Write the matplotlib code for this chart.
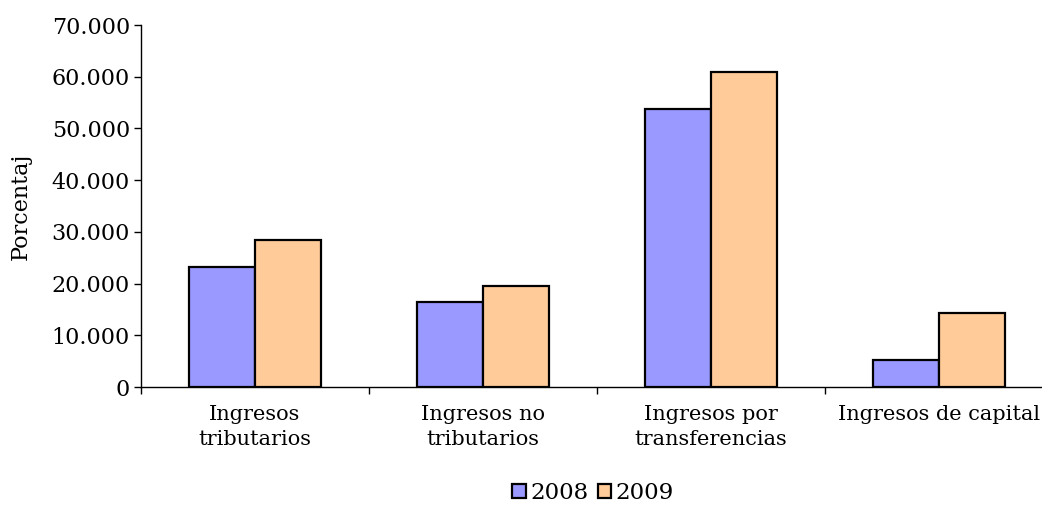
import numpy as np
import matplotlib.pyplot as plt
from matplotlib.ticker import FuncFormatter, FixedLocator
from matplotlib.patches import Patch

plt.rcParams['font.family'] = ['DejaVu Serif']

categories = ['Ingresos\ntributarios', 'Ingresos no\ntributarios',
              'Ingresos por\ntransferencias', 'Ingresos de capital']
years = ['2008', '2009']
vals_2008 = [23.2, 16.4, 53.8, 5.2]
vals_2009 = [28.4, 19.5, 60.9, 14.3]
colors = ['#9999FF', '#FFCC99']


def miles(v, pos):
    # etiquetas al estilo "10.000"
    return '0' if v == 0 else '{}.000'.format(int(round(v)))


fig = plt.figure(figsize=(10.42, 5.05), dpi=100)
ax = fig.add_axes([141/1042, 1 - 387/505, (1053-141)/1042, (387-25)/505])

x = np.arange(len(categories))
w = 0.29
ax.bar(x - w/2, vals_2008, w, color=colors[0], edgecolor='black', linewidth=1.6, zorder=3)
ax.bar(x + w/2, vals_2009, w, color=colors[1], edgecolor='black', linewidth=1.6, zorder=3)

ax.set_xlim(-0.5, len(categories) - 0.5)
ax.set_ylim(0, 70)
ax.set_yticks(np.arange(0, 71, 10))
ax.yaxis.set_major_formatter(FuncFormatter(miles))
ax.set_xticks(x)
ax.set_xticklabels(categories, fontsize=15, linespacing=1.4)
ax.xaxis.set_minor_locator(FixedLocator(np.arange(-0.5, len(categories), 1.0)))
ax.tick_params(axis='x', which='major', length=0, pad=13)
ax.tick_params(axis='x', which='minor', length=5, width=1, direction='out')
ax.tick_params(axis='y', length=5, width=1, direction='out', labelsize=16, pad=3)

for s in ['top', 'right']:
    ax.spines[s].set_visible(False)
for s in ['left', 'bottom']:
    ax.spines[s].set_linewidth(1)

ax.set_ylabel('Porcentaj', fontsize=16, labelpad=14)

handles = [Patch(facecolor=c, edgecolor='black', linewidth=1.6, label=y) for c, y in zip(colors, years)]
fig.legend(handles=handles, loc='center', bbox_to_anchor=(593/1042, 1 - 493/505), ncol=2,
           frameon=False, fontsize=16.5, handlelength=0.6, handleheight=0.6,
           handletextpad=0.2, columnspacing=0.4, borderpad=0.2)

fig.savefig('out.png', dpi=100)
